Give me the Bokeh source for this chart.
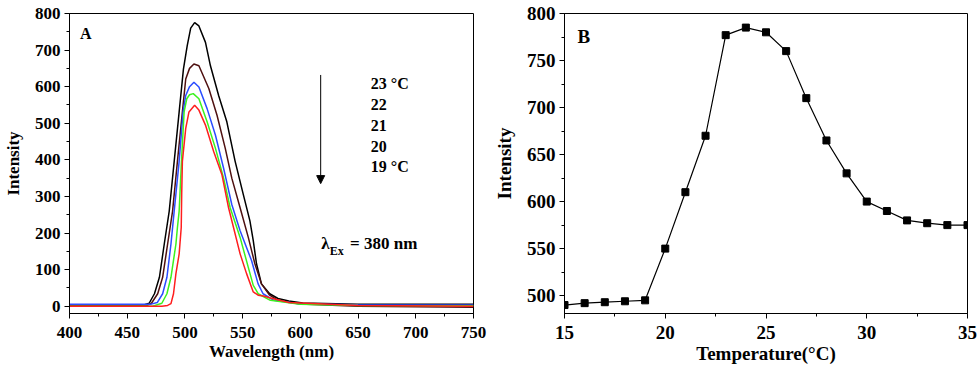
from bokeh.plotting import figure
from bokeh.layouts import row
from bokeh.models import SingleIntervalTicker, Arrow, NormalHead, Range1d
from bokeh.embed import file_html
from bokeh.resources import INLINE

# ---------------- Panel A data: emission spectra ----------------
wl_23 = [400, 465, 469, 473.6, 477.9, 482.1, 486.4, 490.7, 495, 498.7, 502, 505, 508.4, 512.1,
         517.8, 522.1, 529.2, 536.3, 543.5, 550.6, 556.3, 559.2, 562, 566.3, 573.4, 580.6,
         590, 602, 650, 750]
int_23 = [3, 4, 8, 34, 79, 170, 260, 396, 531, 648, 712, 760, 775, 766,
          721, 657, 576, 504, 396, 305, 233, 179, 116, 61, 34, 21,
          14, 9, 5, 5]

wl_22 = [400, 467, 471, 476.4, 480.7, 485, 489.3, 493.5, 497.8, 500.7, 504, 507.8, 512.1,
         520.7, 527.8, 534.9, 540.6, 547.8, 554.9, 560.6, 566.3, 573.4, 580.6, 600, 650, 750]
int_22 = [1, 2, 8, 34, 79, 170, 260, 396, 531, 621, 650, 662, 657,
          595, 522, 432, 350, 269, 188, 116, 61, 30, 16, 6, 0, -3]

wl_21 = [400, 470, 476, 480.7, 484.4, 487.9, 490.7, 495, 498.4, 500.7, 504, 507.8, 512.1,
         519.2, 526.4, 533.5, 540.6, 547.8, 557.7, 563.4, 567.7, 577, 600, 650, 750]
int_21 = [5, 5, 10, 34, 79, 170, 260, 396, 531, 576, 600, 612, 599,
          540, 468, 377, 278, 206, 125, 61, 34, 16, 6, 4, 3]

wl_20 = [400, 472, 480, 484.4, 487.9, 492.2, 493.5, 495, 497, 499.3, 501.6, 504, 507.2, 512.1,
         519.2, 526.4, 533.5, 539.2, 547.8, 554.9, 559.2, 563.4, 574, 600, 650, 750]
int_20 = [0, 0, 8, 34, 79, 170, 215, 260, 396, 531, 567, 578, 581, 567,
          504, 432, 350, 269, 188, 106, 57, 34, 16, 5, 2, 1]

wl_19 = [400, 480, 485, 487.9, 490.1, 492.2, 495, 496.8, 497.2, 497.8, 500.7, 503.5, 508.4,
         512.1, 517.8, 524.9, 532, 537.8, 542.1, 547.8, 553.4, 559.2, 563.4, 568, 573.4,
         590, 650, 750]
int_19 = [0, 0, 2, 7, 34, 89, 143, 215, 305, 396, 486, 531, 549,
          536, 495, 423, 360, 269, 215, 143, 89, 39, 30, 28, 23,
          10, 2, 0]

spectra = [(wl_23, int_23, "#000000"), (wl_22, int_22, "#4e1010"), (wl_21, int_21, "#2a4cff"),
           (wl_20, int_20, "#3cf21e"), (wl_19, int_19, "#ff1e1e")]
temp_labels = ["23 \u00b0C", "22", "21", "20", "19 \u00b0C"]

# ---------------- Panel B data: intensity vs temperature ----------------
temps = [15, 16, 17, 18, 19, 20, 21, 22, 23, 24, 25, 26, 27, 28, 29, 30, 31, 32, 33, 34, 35]
peak_int = [490, 492, 493, 494, 495, 550, 610, 670, 777, 785, 780, 760, 710, 665, 630, 600,
            590, 580, 577, 575, 575]

FONT = "Liberation Serif"


def style(p, tick_fs, label_fs, ystand, xstand, xlabstand):
    p.xgrid.visible = False
    p.ygrid.visible = False
    p.outline_line_color = "black"
    p.outline_line_alpha = 1.0
    p.outline_line_width = 1
    p.background_fill_color = "white"
    p.border_fill_color = "white"
    for ax in (p.xaxis[0], p.yaxis[0]):
        ax.major_label_text_font = FONT
        ax.major_label_text_font_style = "bold"
        ax.major_label_text_font_size = tick_fs
        ax.major_label_text_color = "black"
        ax.axis_label_text_font = FONT
        ax.axis_label_text_font_style = "bold"
        ax.axis_label_text_font_size = label_fs
        ax.axis_label_text_color = "black"
        ax.axis_line_color = "black"
        ax.axis_line_width = 1
        ax.major_tick_line_color = "black"
        ax.minor_tick_line_color = "black"
        ax.major_tick_in = 0
        ax.major_tick_out = 5
        ax.minor_tick_in = 0
        ax.minor_tick_out = 3
        ax.major_label_standoff = 4
    p.xaxis[0].major_label_standoff = xlabstand
    p.yaxis[0].axis_label_standoff = ystand
    p.xaxis[0].axis_label_standoff = xstand


# ---------------- Panel A ----------------
pa = figure(width=490, height=372, output_backend="svg", toolbar_location=None,
            x_range=Range1d(400, 750), y_range=Range1d(-20, 800),
            min_border_left=64, min_border_right=17, min_border_top=10, min_border_bottom=59)
style(pa, "17px", "17px", 9, 1, 8)
pa.xaxis[0].ticker = SingleIntervalTicker(interval=50, num_minor_ticks=2)
pa.yaxis[0].ticker = SingleIntervalTicker(interval=100, num_minor_ticks=2)
pa.xaxis[0].axis_label = "Wavelength (nm)"
pa.yaxis[0].axis_label = "Intensity"

for wl, it, col in spectra:
    pa.line(wl, it, line_color=col, line_width=1.5)

pa.text(x=[409], y=[746], text=["A"], text_font=FONT, text_font_style="bold",
        text_font_size="16px", text_align="left", text_baseline="middle", text_color="black")
pa.add_layout(Arrow(end=NormalHead(size=8, fill_color="black", line_color="black"),
                    x_start=617.6, y_start=632, x_end=617.6, y_end=335,
                    line_color="black", line_width=1))
pa.text(x=[661] * 5, y=[610, 551, 493, 437, 381], text=temp_labels, text_font=FONT,
        text_font_style="bold", text_font_size="16px", text_align="left",
        text_baseline="middle", text_color="black")
pa.text(x=[618], y=[171], text=["\u03bb"], text_font=FONT, text_font_style="bold",
        text_font_size="17px", text_align="left", text_baseline="middle", text_color="black")
pa.text(x=[625.5], y=[152], text=["Ex"], text_font=FONT, text_font_style="bold",
        text_font_size="12px", text_align="left", text_baseline="middle", text_color="black")
pa.text(x=[643], y=[171], text=["= 380 nm"], text_font=FONT, text_font_style="bold",
        text_font_size="17px", text_align="left", text_baseline="middle", text_color="black")

# ---------------- Panel B ----------------
pb = figure(width=490, height=372, output_backend="svg", toolbar_location=None,
            x_range=Range1d(15, 35), y_range=Range1d(481, 800),
            min_border_left=68, min_border_right=13, min_border_top=13, min_border_bottom=59)
style(pb, "19px", "19px", 9, 1, 7)
pb.xaxis[0].ticker = SingleIntervalTicker(interval=5, num_minor_ticks=2)
pb.yaxis[0].ticker = SingleIntervalTicker(interval=50, num_minor_ticks=2)
pb.xaxis[0].axis_label = "Temperature(\u00b0C)"
pb.yaxis[0].axis_label = "Intensity"

pb.line(temps, peak_int, line_color="black", line_width=1.2)
pb.scatter(temps, peak_int, marker="square", size=7, fill_color="black", line_color="black")
pb.text(x=[15.65], y=[776], text=["B"], text_font=FONT, text_font_style="bold",
        text_font_size="19px", text_align="left", text_baseline="middle", text_color="black")

layout = row(pa, pb)
open("out.html", "w").write(file_html(layout, INLINE))
